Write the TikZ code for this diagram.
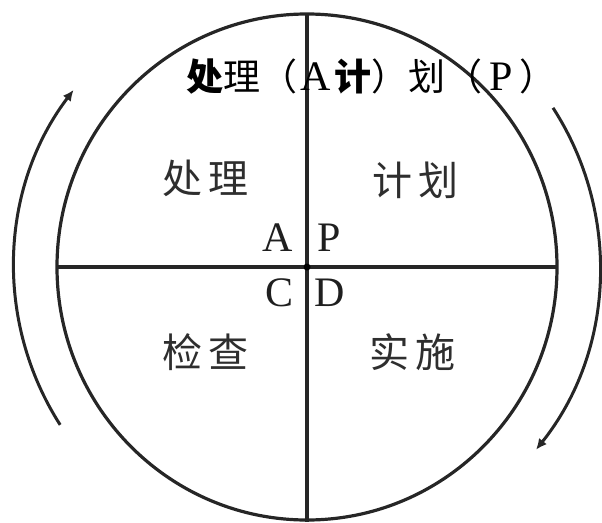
\documentclass[tikz,border=0pt]{standalone}
\usepackage{fontspec}
\setmainfont{Liberation Serif}
\newfontfamily\cjk{Noto Sans CJK SC}
\usetikzlibrary{arrows.meta}
\newcommand{\wideletter}[1]{\makebox[1em]{\rmfamily\fontsize{42}{42}\selectfont #1}}
\begin{document}
\begin{tikzpicture}[x=1pt,y=-1pt,
  axis/.style={line width=3.2pt, black!85},
  cycarrow/.style={line width=3pt, black!85, -{Latex[length=11pt,width=10pt]}},
  quad/.style={font=\cjk\fontsize{40}{40}\selectfont, text=black!82, inner sep=0pt},
  letter/.style={font=\fontsize{42}{42}\selectfont, text=black!88, inner sep=0pt},
  titletext/.style={font=\cjk\fontsize{37}{37}\selectfont, inner sep=0pt, anchor=west}]
\useasboundingbox (0,0) rectangle (602,522);
\coordinate (O) at (307,267);
\coordinate (T) at (307,14);
\coordinate (B) at (307,522);
\coordinate (L) at (57,267);
\coordinate (R) at (557,267);
\draw[axis] (O) ellipse [x radius=250pt, y radius=253pt];
\draw[axis] (T) -- (B);
\draw[axis] (L) -- (R);
\fill (O) circle (3.5pt);
\draw[cycarrow] (O) ++(212.6:293pt) arc[start angle=212.6, end angle=142.8, radius=293pt];
\draw[cycarrow] (O) ++(32.9:293pt) arc[start angle=32.9, end angle=-38.6, radius=293pt];
\node[titletext] (title) at (186,77) {{\bfseries 处}理（\wideletter{A}{\bfseries 计}）划（\wideletter{P}）};
\node[quad] (qA) at (205,178) {处\hspace{6pt}理};
\node[quad] (qP) at (415,180) {计\hspace{6pt}划};
\node[quad] (qC) at (205,352) {检\hspace{6pt}查};
\node[quad] (qD) at (412,352) {实\hspace{6pt}施};
\node[letter] (lA) at (278,238) {A};
\node[letter] (lP) at (329,238) {P};
\node[letter] (lC) at (280,293) {C};
\node[letter] (lD) at (330,293) {D};
\end{tikzpicture}
\end{document}
